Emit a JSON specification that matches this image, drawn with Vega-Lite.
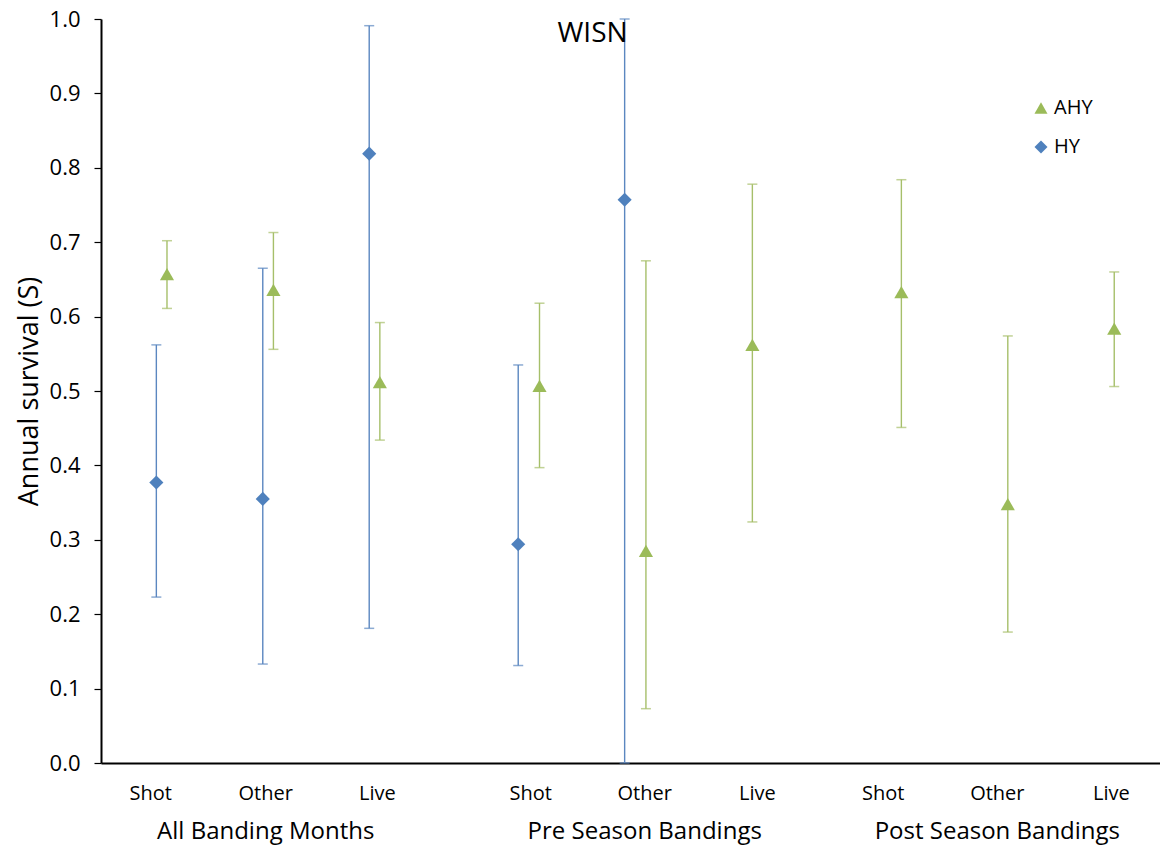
{
  "$schema": "https://vega.github.io/schema/vega-lite/v6.json",
  "width": 1059,
  "height": 744,
  "autosize": {"type": "none"},
  "padding": {"left": 101, "top": 19, "right": 0, "bottom": 83},
  "background": "white",
  "config": {"view": {"stroke": null}, "font": "Open Sans"},
  "title": {"text": "WISN", "fontSize": 28, "fontWeight": "normal", "color": "black", "font": "Open Sans", "anchor": "middle", "frame": "group", "dx": -38, "baseline": "alphabetic", "offset": -62},
  "data": {"values": [
    {"age": "HY", "group": "All Banding Months", "method": "Shot", "x": 1, "S": 0.377, "lower": 0.223, "upper": 0.562},
    {"age": "HY", "group": "All Banding Months", "method": "Other", "x": 2, "S": 0.355, "lower": 0.133, "upper": 0.665},
    {"age": "HY", "group": "All Banding Months", "method": "Live", "x": 3, "S": 0.819, "lower": 0.181, "upper": 0.991},
    {"age": "HY", "group": "Pre Season Bandings", "method": "Shot", "x": 4.4, "S": 0.294, "lower": 0.131, "upper": 0.535},
    {"age": "HY", "group": "Pre Season Bandings", "method": "Other", "x": 5.4, "S": 0.757, "lower": 0.0, "upper": 1.0},
    {"age": "AHY", "group": "All Banding Months", "method": "Shot", "x": 1.1, "S": 0.657, "lower": 0.611, "upper": 0.702},
    {"age": "AHY", "group": "All Banding Months", "method": "Other", "x": 2.1, "S": 0.636, "lower": 0.556, "upper": 0.713},
    {"age": "AHY", "group": "All Banding Months", "method": "Live", "x": 3.1, "S": 0.512, "lower": 0.434, "upper": 0.592},
    {"age": "AHY", "group": "Pre Season Bandings", "method": "Shot", "x": 4.6, "S": 0.507, "lower": 0.397, "upper": 0.618},
    {"age": "AHY", "group": "Pre Season Bandings", "method": "Other", "x": 5.6, "S": 0.285, "lower": 0.073, "upper": 0.675},
    {"age": "AHY", "group": "Pre Season Bandings", "method": "Live", "x": 6.6, "S": 0.562, "lower": 0.324, "upper": 0.778},
    {"age": "AHY", "group": "Post Season Bandings", "method": "Shot", "x": 8, "S": 0.633, "lower": 0.451, "upper": 0.784},
    {"age": "AHY", "group": "Post Season Bandings", "method": "Other", "x": 9, "S": 0.348, "lower": 0.176, "upper": 0.574},
    {"age": "AHY", "group": "Post Season Bandings", "method": "Live", "x": 10, "S": 0.584, "lower": 0.506, "upper": 0.66}
  ]},
  "layer": [
    {
      "mark": {"type": "rule", "strokeWidth": 1.4},
      "encoding": {
        "x": {"field": "x", "type": "quantitative",
          "scale": {"domain": [0.48, 10.43], "nice": false, "zero": false},
          "axis": {"orient": "bottom", "title": null, "values": [0.943, 2.023, 3.072, 4.513, 5.584, 6.643, 7.824, 8.897, 9.968],
            "labelExpr": "['Shot','Other','Live'][indexof([0.943, 2.023, 3.072, 4.513, 5.584, 6.643, 7.824, 8.897, 9.968], datum.value) % 3]",
            "ticks": false, "grid": false, "domainColor": "black", "domainWidth": 2, "labelFontSize": 20, "labelColor": "black", "labelFont": "Open Sans", "labelPadding": 20, "labelFlush": false, "labelOverlap": false, "labelLimit": 0}},
        "y": {"field": "lower", "type": "quantitative", "title": "Annual survival (S)",
          "scale": {"domain": [0, 1], "nice": false, "zero": false},
          "axis": {"values": [0, 0.1, 0.2, 0.3, 0.4, 0.5, 0.6, 0.7, 0.8, 0.9, 1.0], "format": ".1f", "grid": false,
            "domainColor": "black", "domainWidth": 2, "tickColor": "black", "tickSize": 7, "tickWidth": 1.2,
            "labelFontSize": 22, "labelColor": "black", "labelFont": "Open Sans", "labelPadding": 14,
            "titleFontSize": 27, "titleFontWeight": "normal", "titleColor": "black", "titleFont": "Open Sans",
            "titleX": -64, "titleY": 372, "titleBaseline": "alphabetic", "titleAngle": -90, "titleAlign": "center"}},
        "y2": {"field": "upper"},
        "stroke": {"condition": {"test": "datum.age === 'HY'", "value": "#5B87C0"}, "value": "#A6BF6A"}
      }
    },
    {
      "mark": {"type": "tick", "orient": "horizontal", "size": 10, "thickness": 1.5},
      "encoding": {
        "x": {"field": "x", "type": "quantitative",
          "axis": {"orient": "bottom", "title": null, "values": [2.023, 5.584, 8.897],
            "labelExpr": "['All Banding Months','Pre Season Bandings','Post Season Bandings'][indexof([2.023, 5.584, 8.897], datum.value)]",
            "domain": false, "ticks": false, "grid": false, "labelFontSize": 24, "labelColor": "black", "labelFont": "Open Sans", "labelPadding": 56, "labelFlush": false, "labelOverlap": false, "labelLimit": 0}},
        "y": {"field": "lower", "type": "quantitative", "title": "Annual survival (S)"},
        "fill": {"condition": {"test": "datum.age === 'HY'", "value": "#5B87C0"}, "value": "#A6BF6A"}
      }
    },
    {
      "mark": {"type": "tick", "orient": "horizontal", "size": 10, "thickness": 1.5},
      "encoding": {
        "x": {"field": "x", "type": "quantitative", "axis": null},
        "y": {"field": "upper", "type": "quantitative", "title": "Annual survival (S)"},
        "fill": {"condition": {"test": "datum.age === 'HY'", "value": "#5B87C0"}, "value": "#A6BF6A"}
      }
    },
    {
      "mark": {"type": "point", "filled": true, "opacity": 1, "size": 200},
      "encoding": {
        "x": {"field": "x", "type": "quantitative", "axis": null},
        "y": {"field": "S", "type": "quantitative", "title": "Annual survival (S)"},
        "color": {"field": "age", "type": "nominal", "scale": {"domain": ["AHY", "HY"], "range": ["#9BBB59", "#4F81BD"]},
          "legend": {"orient": "none", "legendX": 930, "legendY": 79, "title": null, "labelFontSize": 20, "labelFont": "Open Sans", "labelColor": "black", "symbolSize": 170, "rowPadding": 19, "labelOffset": 3, "padding": 0}},
        "shape": {"field": "age", "type": "nominal", "scale": {"domain": ["AHY", "HY"], "range": ["triangle-up", "diamond"]}}
      }
    }
  ],
  "resolve": {"axis": {"x": "independent"}}
}
